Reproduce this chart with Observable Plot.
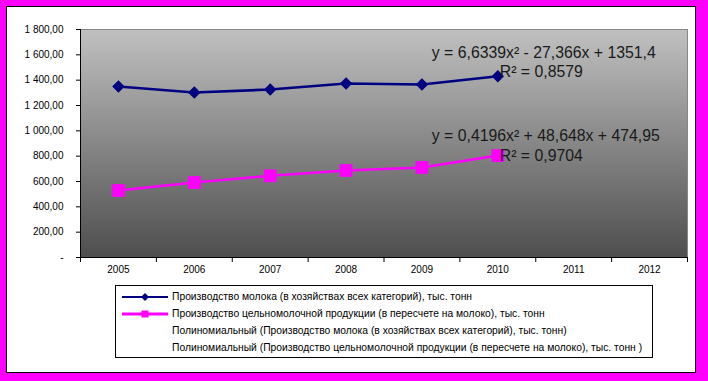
<!DOCTYPE html>
<html><head><meta charset="utf-8">
<script src="https://cdn.jsdelivr.net/npm/d3@7"></script>
<script src="https://cdn.jsdelivr.net/npm/@observablehq/plot@0.6"></script>
<style>
html,body{margin:0;padding:0;}
body{width:708px;height:381px;background:#ff00ff;position:relative;overflow:hidden;font-family:"Liberation Sans",Arial,sans-serif;}
#frame{position:absolute;left:6px;top:6px;width:688px;height:365px;background:#fff;border:1px solid #000;}
#chart{position:absolute;left:0;top:0;}
#legend{position:absolute;left:115px;top:285px;width:536px;height:71px;border:1px solid #000;background:#fff;font-size:10.3px;color:#000;overflow:hidden;}
.row{position:absolute;left:0;height:17px;display:flex;align-items:center;white-space:nowrap;}
.row svg{flex:none;margin-right:4px;}
</style></head>
<body>
<div id="frame"></div>
<div id="chart"></div>
<div id="legend"></div>
<script>
// ---- data ----
const years = [2005, 2006, 2007, 2008, 2009, 2010];
const axisYears = [2005, 2006, 2007, 2008, 2009, 2010, 2011, 2012];
const milk = [1350, 1303, 1326, 1374, 1366, 1431];
const wholeMilk = [529, 592, 645, 687, 711, 805];
const yTicks = [0, 200, 400, 600, 800, 1000, 1200, 1400, 1600, 1800];
const yTickLabels = ["-", "200,00", "400,00", "600,00", "800,00", "1 000,00", "1 200,00", "1 400,00", "1 600,00", "1 800,00"];
const seriesNames = [
  "Производство  молока (в хозяйствах всех категорий), тыс. тонн",
  "Производство цельномолочной продукции (в пересчете на молоко), тыс. тонн"
];
const trendNames = [
  "Полиномиальный (Производство  молока (в хозяйствах всех категорий), тыс. тонн)",
  "Полиномиальный (Производство цельномолочной продукции (в пересчете на молоко), тыс. тонн )"
];
const milkEquation = ["y = 6,6339x² - 27,366x + 1351,4", "R² = 0,8579"];
const wholeEquation = ["y = 0,4196x² + 48,648x + 474,95", "R² = 0,9704"];
const colors = ["#000080", "#ff00ff"];

// ---- build ----
const milkData = years.map((year, i) => ({year, value: milk[i]}));
const wholeData = years.map((year, i) => ({year, value: wholeMilk[i]}));
const boundaries = axisYears.map(y => y - 0.5).concat([axisYears[axisYears.length - 1] + 0.5]);
const xDomain = [boundaries[0], boundaries[boundaries.length - 1]];
const lastMilk = milkData[milkData.length - 1];
const lastWhole = wholeData[wholeData.length - 1];

const chart = Plot.plot({
  width: 708,
  height: 285,
  marginLeft: 80,
  marginRight: 21,
  marginTop: 29,
  marginBottom: 28,
  style: {fontFamily: "'Liberation Sans', Arial, sans-serif", fontSize: "10px", background: "transparent", color: "#000", overflow: "visible"},
  x: {type: "linear", domain: xDomain},
  y: {domain: [0, 1800]},
  marks: [
    Plot.frame({fill: "url(#plotBg)", stroke: "#868686"}),
    Plot.ruleX([xDomain[0]], {stroke: "#000"}),
    Plot.ruleY([0], {stroke: "#000"}),
    Plot.axisY({ticks: yTicks, tickFormat: d => yTickLabels[yTicks.indexOf(d)], tickSize: 4, tickPadding: 13, fontSize: 10, label: null}),
    Plot.axisX({ticks: boundaries, tickFormat: () => "", tickSize: 5, label: null}),
    Plot.axisX({ticks: axisYears, tickFormat: d => String(d), tickSize: 0, tickPadding: 8, fontSize: 10, label: null}),
    Plot.line(milkData, {x: "year", y: "value", stroke: colors[0], strokeWidth: 2.6}),
    Plot.dot(milkData, {x: "year", y: "value", symbol: "diamond2", r: 5.6, fill: colors[0]}),
    Plot.line(wholeData, {x: "year", y: "value", stroke: colors[1], strokeWidth: 2.6}),
    Plot.dot(wholeData, {x: "year", y: "value", symbol: "square", r: 7.2, fill: colors[1]}),
    Plot.text([lastMilk], {x: "year", y: "value", text: () => milkEquation[0], textAnchor: "start", dx: -66, dy: -23, fontSize: 15.8, fill: "#1a1a1a"}),
    Plot.text([lastMilk], {x: "year", y: "value", text: () => milkEquation[1], textAnchor: "start", dx: 2, dy: -4, fontSize: 15.8, fill: "#1a1a1a"}),
    Plot.text([lastWhole], {x: "year", y: "value", text: () => wholeEquation[0], textAnchor: "start", dx: -66, dy: -20, fontSize: 15.8, fill: "#1a1a1a"}),
    Plot.text([lastWhole], {x: "year", y: "value", text: () => wholeEquation[1], textAnchor: "start", dx: 2, dy: 0, fontSize: 15.8, fill: "#1a1a1a"})
  ]
});

const defs = d3.select(chart).insert("defs", ":first-child");
const grad = defs.append("linearGradient").attr("id", "plotBg").attr("x1", 0).attr("y1", 0).attr("x2", 0).attr("y2", 1);
grad.append("stop").attr("offset", "0%").attr("stop-color", "#c0c0c0");
grad.append("stop").attr("offset", "100%").attr("stop-color", "#4e4e4e");
document.getElementById("chart").appendChild(chart);

// ---- legend ----
const legend = d3.select("#legend");
const entries = [
  {name: seriesNames[0], color: colors[0], symbol: "diamond"},
  {name: seriesNames[1], color: colors[1], symbol: "square"},
  {name: trendNames[0], color: null},
  {name: trendNames[1], color: null}
];
entries.forEach((e, i) => {
  const row = legend.append("div").attr("class", "row").style("top", (2 + i * 17) + "px").style("left", "6px");
  const s = row.append("svg").attr("width", 46).attr("height", 12);
  if (e.color) {
    s.append("line").attr("x1", 0).attr("x2", 46).attr("y1", 6).attr("y2", 6).attr("stroke", e.color).attr("stroke-width", e.symbol === "square" ? 3 : 2);
    if (e.symbol === "diamond") s.append("path").attr("d", "M23,2L27,6L23,10L19,6Z").attr("fill", e.color);
    else s.append("rect").attr("x", 19.5).attr("y", 2.5).attr("width", 7).attr("height", 7).attr("fill", e.color);
  }
  row.append("span").text(e.name);
});
</script>
</body></html>
